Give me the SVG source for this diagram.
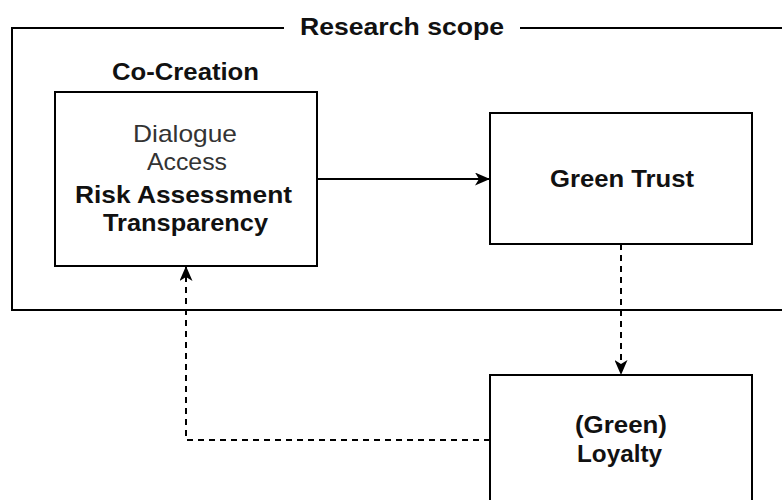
<svg xmlns="http://www.w3.org/2000/svg" width="782" height="500" viewBox="0 0 782 500">
  <style>
    .box { fill: #ffffff; stroke: #000000; stroke-width: 2; }
    .scope { fill: none; stroke: #000000; stroke-width: 2; }
    .t { font-family: "Liberation Sans", Arial, sans-serif; font-size: 24px; text-anchor: middle; }
    .b { font-weight: bold; fill: #111111; }
    .n { font-weight: normal; fill: #333333; }
    .edge { fill: none; stroke: #000000; stroke-width: 2; }
    .dash { stroke-dasharray: 6 5; }
  </style>
  <defs>
    <marker id="arrow" viewBox="0 0 15 13" refX="15" refY="6.5" markerWidth="15" markerHeight="13" markerUnits="userSpaceOnUse" orient="auto">
      <path d="M0,0 L15,6.5 L0,13 L4,6.5 Z" fill="#000000"/>
    </marker>
  </defs>
  <rect width="782" height="500" fill="#ffffff"/>

  <g id="scope">
    <path class="scope" d="M284,28 L12,28 L12,310 L790,310 M520,28 L790,28"/>
    <text class="t b" x="402" y="35" textLength="204" lengthAdjust="spacingAndGlyphs">Research scope</text>
  </g>

  <g id="co-creation">
    <text class="t b" x="185.5" y="80" textLength="147" lengthAdjust="spacingAndGlyphs">Co-Creation</text>
    <rect class="box" x="55" y="92" width="262" height="174"/>
    <text class="t n" x="185" y="142" textLength="104" lengthAdjust="spacingAndGlyphs">Dialogue</text>
    <text class="t n" x="187" y="170" textLength="80" lengthAdjust="spacingAndGlyphs">Access</text>
    <text class="t b" x="183.5" y="203" textLength="217" lengthAdjust="spacingAndGlyphs">Risk Assessment</text>
    <text class="t b" x="185.5" y="231" textLength="165" lengthAdjust="spacingAndGlyphs">Transparency</text>
  </g>

  <g id="green-trust">
    <rect class="box" x="490" y="113" width="262" height="131"/>
    <text class="t b" x="622" y="187" textLength="144" lengthAdjust="spacingAndGlyphs">Green Trust</text>
  </g>

  <g id="loyalty">
    <rect class="box" x="490" y="375" width="262" height="135"/>
    <text class="t b" x="621" y="433" textLength="92" lengthAdjust="spacingAndGlyphs">(Green)</text>
    <text class="t b" x="619.5" y="462" textLength="85" lengthAdjust="spacingAndGlyphs">Loyalty</text>
  </g>

  <g id="connectors">
    <path class="edge" d="M317,179 L490,179" marker-end="url(#arrow)"/>
    <path class="edge dash" d="M621,244 L621,375" marker-end="url(#arrow)"/>
    <path class="edge dash" d="M490,440 L186,440 L186,266" marker-end="url(#arrow)"/>
  </g>
</svg>
